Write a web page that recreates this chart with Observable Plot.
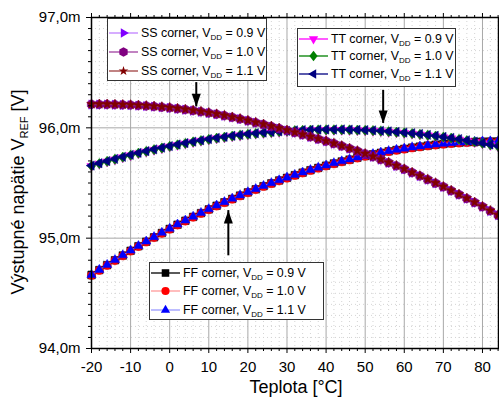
<!DOCTYPE html>
<html><head><meta charset="utf-8">
<script src="https://cdn.jsdelivr.net/npm/d3@7"></script>
<script src="https://cdn.jsdelivr.net/npm/@observablehq/plot@0.6"></script>
<style>
body{margin:0;background:#fff;}
#wrap{position:relative;width:499px;height:399px;font-family:"Liberation Sans",Arial,sans-serif;overflow:hidden;}
.leg{position:absolute;background:#fff;border:1px solid #333;box-sizing:border-box;}
.row{position:absolute;left:0;height:18px;display:flex;align-items:center;font-size:12.4px;white-space:nowrap;color:#000;}
.row svg{margin-left:1px;margin-right:3px;flex:none;}
.row sub{font-size:8px;vertical-align:-3px;line-height:0;}
</style></head><body><div id="wrap"></div>
<script>
// ---------- data ----------
const temperature = [-20,-18,-16,-14,-12,-10,-8,-6,-4,-2,0,2,4,6,8,10,12,14,16,18,20,22,24,26,28,30,32,34,36,38,40,42,44,46,48,50,52,54,56,58,60,62,64,66,68,70,72,74,76,78,80,82,84];

const ssVdd09 = [96.211,96.211,96.211,96.209,96.207,96.205,96.201,96.197,96.192,96.186,96.180,96.172,96.164,96.155,96.145,96.134,96.122,96.109,96.094,96.079,96.063,96.046,96.029,96.011,95.993,95.975,95.956,95.937,95.917,95.897,95.877,95.856,95.834,95.811,95.788,95.763,95.737,95.711,95.683,95.654,95.624,95.593,95.562,95.530,95.497,95.464,95.429,95.394,95.358,95.322,95.284,95.246,95.207];
const ssVdd10 = [96.213,96.213,96.213,96.211,96.209,96.207,96.203,96.199,96.194,96.188,96.182,96.174,96.166,96.157,96.147,96.136,96.124,96.111,96.096,96.081,96.065,96.048,96.031,96.013,95.995,95.977,95.958,95.939,95.919,95.899,95.879,95.858,95.836,95.813,95.790,95.765,95.739,95.713,95.685,95.656,95.626,95.595,95.564,95.532,95.499,95.466,95.431,95.396,95.360,95.324,95.286,95.248,95.209];
const ssVdd11 = [96.215,96.215,96.215,96.213,96.211,96.209,96.205,96.201,96.196,96.190,96.184,96.176,96.168,96.159,96.149,96.138,96.126,96.113,96.098,96.083,96.067,96.050,96.033,96.015,95.997,95.979,95.960,95.941,95.921,95.901,95.881,95.860,95.838,95.815,95.792,95.767,95.741,95.715,95.687,95.658,95.628,95.597,95.566,95.534,95.501,95.468,95.433,95.398,95.362,95.326,95.288,95.250,95.211];

const ttVdd09 = [95.652,95.673,95.693,95.712,95.731,95.749,95.767,95.783,95.799,95.814,95.829,95.843,95.856,95.869,95.881,95.892,95.903,95.912,95.922,95.930,95.938,95.945,95.951,95.957,95.962,95.967,95.971,95.974,95.976,95.978,95.979,95.979,95.979,95.978,95.976,95.974,95.971,95.967,95.962,95.957,95.951,95.945,95.938,95.930,95.922,95.912,95.903,95.892,95.881,95.869,95.856,95.843,95.829];
const ttVdd10 = [95.655,95.676,95.696,95.715,95.734,95.752,95.770,95.786,95.802,95.817,95.832,95.846,95.859,95.872,95.884,95.895,95.906,95.915,95.925,95.933,95.941,95.948,95.954,95.960,95.965,95.970,95.974,95.977,95.979,95.981,95.982,95.982,95.982,95.981,95.979,95.977,95.974,95.970,95.965,95.960,95.954,95.948,95.941,95.933,95.925,95.915,95.906,95.895,95.884,95.872,95.859,95.846,95.832];
const ttVdd11 = [95.658,95.679,95.699,95.718,95.737,95.755,95.773,95.789,95.805,95.820,95.835,95.849,95.862,95.875,95.887,95.898,95.909,95.918,95.928,95.936,95.944,95.951,95.957,95.963,95.968,95.973,95.977,95.980,95.982,95.984,95.985,95.985,95.985,95.984,95.982,95.980,95.977,95.973,95.968,95.963,95.957,95.951,95.944,95.936,95.928,95.918,95.909,95.898,95.887,95.875,95.862,95.849,95.835];

const ffVdd09 = [94.665,94.711,94.756,94.800,94.843,94.886,94.927,94.968,95.008,95.047,95.084,95.122,95.158,95.193,95.227,95.261,95.294,95.325,95.356,95.386,95.415,95.443,95.471,95.497,95.523,95.547,95.571,95.594,95.616,95.637,95.657,95.677,95.695,95.712,95.729,95.745,95.760,95.774,95.787,95.799,95.810,95.821,95.830,95.839,95.847,95.854,95.860,95.865,95.869,95.872,95.875,95.876,95.877];
const ffVdd10 = [94.662,94.708,94.753,94.797,94.840,94.883,94.924,94.965,95.005,95.044,95.081,95.119,95.155,95.190,95.224,95.258,95.291,95.322,95.353,95.383,95.412,95.440,95.468,95.494,95.520,95.544,95.568,95.591,95.613,95.634,95.654,95.674,95.692,95.709,95.726,95.742,95.757,95.771,95.784,95.796,95.807,95.818,95.827,95.836,95.844,95.851,95.857,95.862,95.866,95.869,95.872,95.873,95.874];
const ffVdd11 = [94.668,94.714,94.759,94.803,94.846,94.889,94.930,94.971,95.011,95.050,95.087,95.125,95.161,95.196,95.230,95.264,95.297,95.328,95.359,95.389,95.418,95.446,95.474,95.500,95.526,95.550,95.574,95.597,95.619,95.640,95.660,95.680,95.698,95.715,95.732,95.748,95.763,95.777,95.790,95.802,95.813,95.824,95.833,95.842,95.850,95.857,95.863,95.868,95.872,95.875,95.878,95.879,95.880];

const xTicks = [-20,-10,0,10,20,30,40,50,60,70,80];
const yTicks = [94,95,96,97];
// annotation arrows (data units)
const arrowsDown = [{t: 6.8, from: 96.41, to: 96.19}, {t: 54.6, from: 96.34, to: 96.04}];
const arrowsUp = [{t: 15.0, from: 94.84, to: 95.25}];

// ---------- symbols ----------
function tri(angle){
  return {draw(c, s){
    const r = Math.sqrt(s/Math.PI)*1.25;
    for (let i=0;i<3;i++){
      const a = angle + i*2*Math.PI/3;
      const x = r*Math.cos(a), y = r*Math.sin(a);
      if (i===0) c.moveTo(x,y); else c.lineTo(x,y);
    }
    c.closePath();
  }};
}
const symRight = tri(0), symDown = tri(Math.PI/2), symLeft = tri(Math.PI), symUp = tri(-Math.PI/2);
const symHex = {draw(c,s){const r=Math.sqrt(s/Math.PI)*1.12;for(let i=0;i<6;i++){const a=Math.PI/6+i*Math.PI/3;const x=r*Math.cos(a),y=r*Math.sin(a);if(i===0)c.moveTo(x,y);else c.lineTo(x,y);}c.closePath();}};
const symStar = {draw(c,s){d3.symbolStar.draw(c, s*0.5);}};
const symSquare = {draw(c,s){const h=Math.sqrt(s/Math.PI)*0.88;c.rect(-h,-h,2*h,2*h);}};
const symCircle = {draw(c,s){const r=Math.sqrt(s/Math.PI)*0.95;c.moveTo(r,0);c.arc(0,0,r,0,2*Math.PI);}};
const symDiamond = {draw(c,s){const r=Math.sqrt(s/Math.PI)*1.2;c.moveTo(0,-r);c.lineTo(r*0.8,0);c.lineTo(0,r);c.lineTo(-r*0.8,0);c.closePath();}};
const headDown = {draw(c){c.moveTo(0,0);c.lineTo(-4.5,-13);c.lineTo(4.5,-13);c.closePath();}};
const headUp = {draw(c){c.moveTo(0,0);c.lineTo(-4.5,13);c.lineTo(4.5,13);c.closePath();}};

const series = [
  {corner:"FF", vdd:"0.9", values: ffVdd09, color:"#000000", line:"#000000", symbol: symSquare},
  {corner:"FF", vdd:"1.0", values: ffVdd10, color:"#ff0000", line:"#ff9a9a", symbol: symCircle},
  {corner:"FF", vdd:"1.1", values: ffVdd11, color:"#0000ff", line:"#9a9aff", symbol: symUp},
  {corner:"TT", vdd:"0.9", values: ttVdd09, color:"#ff00ff", line:"#ff00ff", symbol: symDown},
  {corner:"TT", vdd:"1.0", values: ttVdd10, color:"#008000", line:"#008000", symbol: symDiamond},
  {corner:"TT", vdd:"1.1", values: ttVdd11, color:"#000080", line:"#000080", symbol: symLeft},
  {corner:"SS", vdd:"0.9", values: ssVdd09, color:"#8000ff", line:"#c080ff", symbol: symRight},
  {corner:"SS", vdd:"1.0", values: ssVdd10, color:"#800080", line:"#a040a0", symbol: symHex},
  {corner:"SS", vdd:"1.1", values: ssVdd11, color:"#800000", line:"#a04040", symbol: symStar}
];

const xMinor = d3.range(-20, 85, 2).filter(d => d % 10 !== 0);
const yMinor = d3.range(0, 31).filter(i => i % 10 !== 0).map(i => 94 + i/10);
const fmtY = d => d.toFixed(1).replace(".", ",") + "m";

const seriesMarks = series.flatMap(s => {
  const rows = temperature.map((t,i) => ({t, v: s.values[i]}));
  return [
    Plot.line(rows, {x:"t", y:"v", stroke: s.line, strokeWidth: 1}),
    Plot.dot(rows, {x:"t", y:"v", symbol: s.symbol, fill: s.color, stroke: s.color, strokeWidth: 0.5, r: 4.3})
  ];
});

const chart = Plot.plot({
  width: 499, height: 399,
  marginLeft: 91, marginRight: 1, marginTop: 17, marginBottom: 51,
  style: {fontFamily: '"Liberation Sans", Arial, sans-serif', fontSize: "15px", color: "#000", background: "#fff"},
  x: {domain: [-20, 84.1]},
  y: {domain: [94, 97]},
  marks: [
    Plot.ruleX(xMinor, {stroke: "#d4d4d4", strokeDasharray: "1,3"}),
    Plot.ruleY(yMinor, {stroke: "#d4d4d4", strokeDasharray: "1,3"}),
    Plot.ruleX(xTicks, {stroke: "#a8a8a8"}),
    Plot.ruleY(yTicks, {stroke: "#a8a8a8"}),
    ...seriesMarks,
    Plot.ruleX(arrowsDown, {x:"t", y1:"from", y2:"to", stroke:"#000", strokeWidth:2}),
    Plot.ruleX(arrowsUp, {x:"t", y1:"from", y2:"to", stroke:"#000", strokeWidth:2}),
    Plot.dot(arrowsDown, {x:"t", y:"to", symbol: headDown, fill:"#000", r: 4}),
    Plot.dot(arrowsUp, {x:"t", y:"to", symbol: headUp, fill:"#000", r: 4}),
    Plot.frame({stroke:"#000", strokeWidth: 1.5}),
    Plot.axisX(xTicks, {anchor:"bottom", tickSize:5, tickPadding:8, tickFormat: d => String(d), label: null}),
    Plot.axisX(xMinor, {anchor:"bottom", tickSize:3, tickFormat: () => "", label: null}),
    Plot.axisX(xTicks, {anchor:"top", tickSize:5, tickFormat: () => "", label: null}),
    Plot.axisX(xMinor, {anchor:"top", tickSize:3, tickFormat: () => "", label: null}),
    Plot.axisY(yTicks, {anchor:"left", tickSize:5, tickPadding:6, tickFormat: fmtY, label: null}),
    Plot.axisY(yMinor, {anchor:"left", tickSize:3, tickFormat: () => "", label: null})
  ]
});

const wrap = d3.select("#wrap");
wrap.node().appendChild(chart);
const svg = d3.select(chart);
svg.append("text").attr("x", 296).attr("y", 393).attr("text-anchor","middle")
  .attr("font-size", 18).attr("fill","#000").text("Teplota [°C]");
const yl = svg.append("text").attr("transform","translate(24,192) rotate(-90)").attr("text-anchor","middle")
  .attr("font-size", 18).attr("fill","#000");
yl.append("tspan").text("Výstupné napätie V");
yl.append("tspan").attr("font-size", 11).attr("dy", 4).text("REF");
yl.append("tspan").attr("dy", -4).text(" [V]");

// ---------- legends ----------
function legend(box, items){
  const div = wrap.append("div").attr("class","leg")
    .style("left", box.left+"px").style("top", box.top+"px")
    .style("width", box.width+"px").style("height", box.height+"px");
  items.forEach((s, i) => {
    const row = div.append("div").attr("class","row").style("top", box.rows[i]+"px");
    const sv = row.append("svg").attr("width", 29).attr("height", 16);
    sv.append("line").attr("x1",0).attr("x2",29).attr("y1",8).attr("y2",8)
      .attr("stroke", s.line).attr("stroke-width", 1.3);
    sv.append("path").attr("transform","translate(14.5,8)")
      .attr("d", d3.symbol(s.symbol, Math.PI*4.3*4.3)()).attr("fill", s.color);
    row.append("span").html(`${s.corner} corner, V<sub>DD</sub> = ${s.vdd} V`);
  });
}
const bySeries = c => series.filter(s => s.corner === c);
legend({left:107, top:18, width:160, height:63, rows:[5,24,43]}, bySeries("SS"));
legend({left:297, top:28, width:159, height:59, rows:[1,18,36]}, bySeries("TT"));
legend({left:149, top:262, width:175, height:58, rows:[1,19,38]}, bySeries("FF"));
</script></body></html>
